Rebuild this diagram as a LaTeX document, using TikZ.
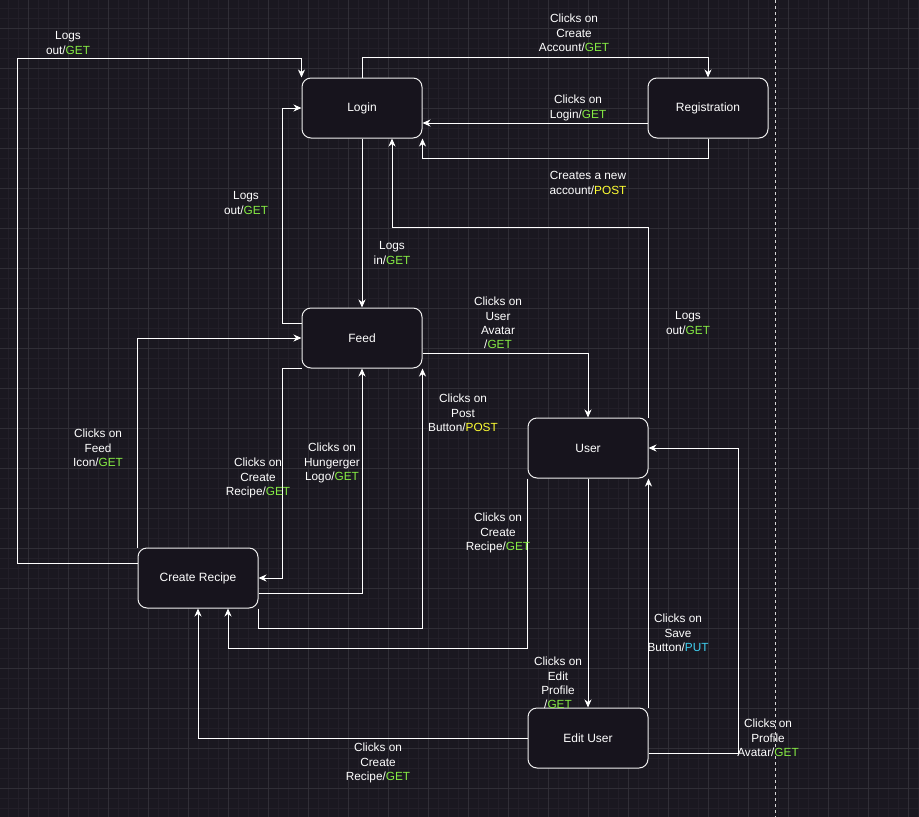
\documentclass[tikz,border=0pt]{standalone}
\usepackage{fontspec}
\setmainfont{Liberation Sans}
\usetikzlibrary{arrows.meta,calc}
\definecolor{bgc}{HTML}{1A1820}
\definecolor{nodefill}{HTML}{17141D}
\definecolor{gridmajor}{HTML}{302E36}
\definecolor{gridminor}{HTML}{221F28}
\definecolor{getgreen}{HTML}{86EC44}
\definecolor{postyellow}{HTML}{FFFF33}
\definecolor{putcyan}{HTML}{40D0F0}
\definecolor{nodeline}{HTML}{EDEDED}
\newcommand\mGET{\textcolor{getgreen}{GET}}
\newcommand\mPOST{\textcolor{postyellow}{POST}}
\newcommand\mPUT{\textcolor{putcyan}{PUT}}
\tikzset{
  state/.style={draw=nodeline, line width=1pt, fill=nodefill, rounded corners=9pt,
    minimum width=120pt, minimum height=60pt, inner sep=0pt, text=white,
    font=\fontsize{12}{14}\selectfont},
  lbl/.style={inner sep=0pt, align=center, text=white,
    font=\fontsize{11.8}{14.4}\selectfont},
  arr/.style={draw=white, line width=1pt,
    -{Stealth[length=8pt,width=7pt,inset=2.5pt]}},
}
\begin{document}
\begin{tikzpicture}[x=1pt,y=-1pt]
\useasboundingbox (0,0) rectangle (919,817);
\fill[bgc] (0,0) rectangle (919,817);
% grid
\foreach \i in {8,18,...,918} {\draw[gridminor, line width=0.5pt] (\i,0) -- (\i,817);}
\foreach \i in {8,18,...,816} {\draw[gridminor, line width=0.5pt] (0,\i) -- (919,\i);}
\foreach \i in {28,68,...,918} {\draw[gridmajor, line width=0.8pt] (\i,0) -- (\i,817);}
\foreach \i in {28,68,...,816} {\draw[gridmajor, line width=0.8pt] (0,\i) -- (919,\i);}
% dashed separator
\coordinate (sepTop) at (775.7,0);
\coordinate (sepBot) at (775.7,817);
\draw[white!85!black, line width=0.8pt, dash pattern=on 3pt off 3pt] (sepTop) -- (sepBot);
% states
\node[state] (login) at (362,108) {Login};
\node[state] (reg) at (708,108) {Registration};
\node[state] (feed) at (362,338) {Feed};
\node[state] (user) at (588,448) {User};
\node[state] (cr) at (198,578) {Create Recipe};
\node[state] (eu) at (588,738) {Edit User};
% connectors
\draw[arr] (login.north) -- ++(0,-20) -| (reg.north);
\draw[arr] ([yshift=-15pt]reg.west) -- ([yshift=-15pt]login.east);
\draw[arr] (reg.south) -- ++(0,20) -| (login.south east);
\draw[arr] (user.north east) -- ++(0,-190) -| ([xshift=30pt]login.south);
\draw[arr] (login.south) -- (feed.north);
\draw[arr] ([yshift=15pt]feed.west) -- ++(-19,0) |- (login.west);
\draw[arr] ([yshift=15pt]cr.west) -- ++(-120,0) -- ++(0,-505) -| (login.north west);
\draw[arr] (cr.north west) |- (feed.west);
\draw[arr] (feed.south west) -- ++(-19,0) |- (cr.east);
\draw[arr] ([yshift=-15pt]cr.east) -| (feed.south);
\draw[arr] (cr.south east) -- ++(0,20) -| (feed.south east);
\draw[arr] ([yshift=-15pt]feed.east) -| (user.north);
\draw[arr] (user.south west) -- ++(0,170) -| ([xshift=30pt]cr.south);
\draw[arr] (user.south) -- (eu.north);
\draw[arr] (eu.north east) -- (user.south east);
\draw[arr] ([yshift=-15pt]eu.east) -- ++(90,0) |- (user.east);
\draw[arr] (eu.west) -| (cr.south);
% labels
\node[lbl] (l1) at (574,33) {Clicks on\\Create\\Account/\mGET};
\node[lbl] (l2) at (578,108) {Clicks on\\Login/\mGET};
\node[lbl] (l3) at (588,183) {Creates a new\\account/\mPOST};
\node[lbl] (l4) at (688,323) {Logs\\out/\mGET};
\node[lbl] (l5) at (392,253) {Logs\\in/\mGET};
\node[lbl] (l6) at (246,203) {Logs\\out/\mGET};
\node[lbl] (l7) at (68,43) {Logs\\out/\mGET};
\node[lbl] (l8) at (98,448) {Clicks on\\Feed\\Icon/\mGET};
\node[lbl] (l9) at (258,478) {Clicks on\\Create\\Recipe/\mGET};
\node[lbl] (l10) at (332,463) {Clicks on\\Hungerger\\Logo/\mGET};
\node[lbl] (l11) at (463,413) {Clicks on\\Post\\Button/\mPOST};
\node[lbl] (l12) at (498,323) {Clicks on\\User\\Avatar\\/\mGET};
\node[lbl] (l13) at (498,533) {Clicks on\\Create\\Recipe/\mGET};
\node[lbl] (l14) at (558,683) {Clicks on\\Edit\\Profile\\/\mGET};
\node[lbl] (l15) at (678,633) {Clicks on\\Save\\Button/\mPUT};
\node[lbl] (l16) at (768,738) {Clicks on\\Profile\\Avatar/\mGET};
\node[lbl] (l17) at (378,763) {Clicks on\\Create\\Recipe/\mGET};
\end{tikzpicture}
\end{document}
